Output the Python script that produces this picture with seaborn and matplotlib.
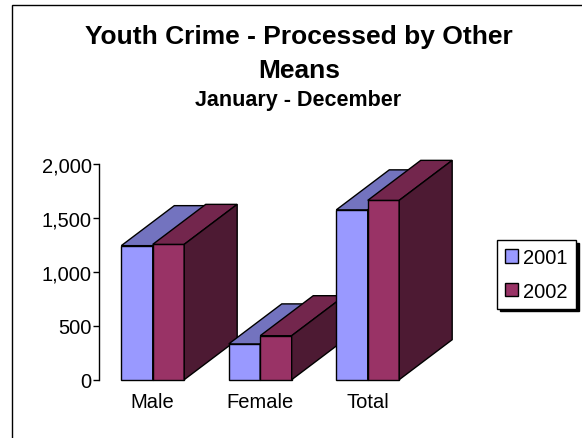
import matplotlib
matplotlib.use("Agg")
import matplotlib.pyplot as plt
from matplotlib.patches import Polygon, Rectangle, Patch
from matplotlib.ticker import FuncFormatter
import seaborn as sns
import pandas as pd

# Datos del grafico
categories = ["Male", "Female", "Total"]
years = ["2001", "2002"]
values_2001 = [1243, 332, 1575]
values_2002 = [1255, 408, 1663]
y_ticks = [0, 500, 1000, 1500, 2000]

df = pd.DataFrame({
    "Category": categories * 2,
    "Year": [years[0]] * len(categories) + [years[1]] * len(categories),
    "Count": values_2001 + values_2002,
})

# colores estilo Excel: frente, arriba, lado
front_colors = ["#9999ff", "#993366"]
top_colors = ["#7373bf", "#73264d"]
side_colors = ["#4d4d80", "#4d1a33"]

sns.set_style("white")
plt.rcParams["font.family"] = ["Liberation Sans", "DejaVu Sans"]
plt.rcParams.update({"text.color": "black", "xtick.color": "black",
                     "ytick.color": "black", "axes.labelcolor": "black"})

fig = plt.figure(figsize=(5.82, 4.39), dpi=100)
ax = fig.add_axes([0.1701, 0.1328, 0.628, 0.4913])

sns.barplot(data=df, x="Category", y="Count", hue="Year", palette=front_colors,
            width=0.585, gap=0, edgecolor="black", linewidth=1, saturation=1,
            legend=False, ax=ax)

ax.set_xlim(-0.5, 2.9)
ax.set_ylim(0, 2000)

# profundidad 3D en unidades de datos
depth_x = 0.493
depth_y = 371

for j, container in enumerate(ax.containers):
    for i, bar in enumerate(container.patches):
        z = 2 + i * 2 + j
        bar.set_zorder(z)
        bar.set_clip_on(False)
        x0 = bar.get_x()
        x1 = x0 + bar.get_width()
        h = bar.get_height()
        top = Polygon([(x0, h), (x1, h), (x1 + depth_x, h + depth_y), (x0 + depth_x, h + depth_y)],
                      closed=True, facecolor=top_colors[j], edgecolor="black", linewidth=1,
                      zorder=z, clip_on=False)
        side = Polygon([(x1, 0), (x1 + depth_x, depth_y), (x1 + depth_x, h + depth_y), (x1, h)],
                       closed=True, facecolor=side_colors[j], edgecolor="black", linewidth=1,
                       zorder=z, clip_on=False)
        ax.add_patch(top)
        ax.add_patch(side)

ax.set_yticks(y_ticks)
ax.yaxis.set_major_formatter(FuncFormatter(lambda v, p: f"{v:,.0f}"))
ax.tick_params(axis="y", left=True, length=4.3, width=1, color="black", labelsize=14.5, pad=1)
ax.tick_params(axis="x", bottom=False, length=0, labelsize=14.5, pad=9)
ax.set_xlabel("")
ax.set_ylabel("")
for s in ["top", "right", "bottom"]:
    ax.spines[s].set_visible(False)
ax.spines["left"].set_color("black")
ax.spines["left"].set_linewidth(1)

# titulo
fig.text(0.514, 0.915, "Youth Crime - Processed by Other", ha="center", va="center",
         fontsize=19, fontweight="bold")
fig.text(0.514, 0.838, "Means", ha="center", va="center", fontsize=19, fontweight="bold")
fig.text(0.512, 0.77, "January - December", ha="center", va="center", fontsize=15.5, fontweight="bold")

# leyenda
handles = [Patch(facecolor=c, edgecolor="black", linewidth=1) for c in front_colors]
fig.legend(handles, years, loc="upper left", bbox_to_anchor=(497 / 582, 1 - 241 / 439),
           fontsize=14.5, frameon=True, fancybox=False, edgecolor="black",
           shadow={"color": "black", "alpha": 1}, handlelength=0.65, handleheight=0.65,
           handletextpad=0.25, labelspacing=0.72, borderpad=0.4, borderaxespad=0)

# borde del area del grafico
fig.patches.append(Rectangle((12 / 582, -0.1), 1.2, 1.1 - 6 / 439, transform=fig.transFigure,
                             facecolor="none", edgecolor="black", linewidth=1))

fig.savefig("out.png", dpi=100)
